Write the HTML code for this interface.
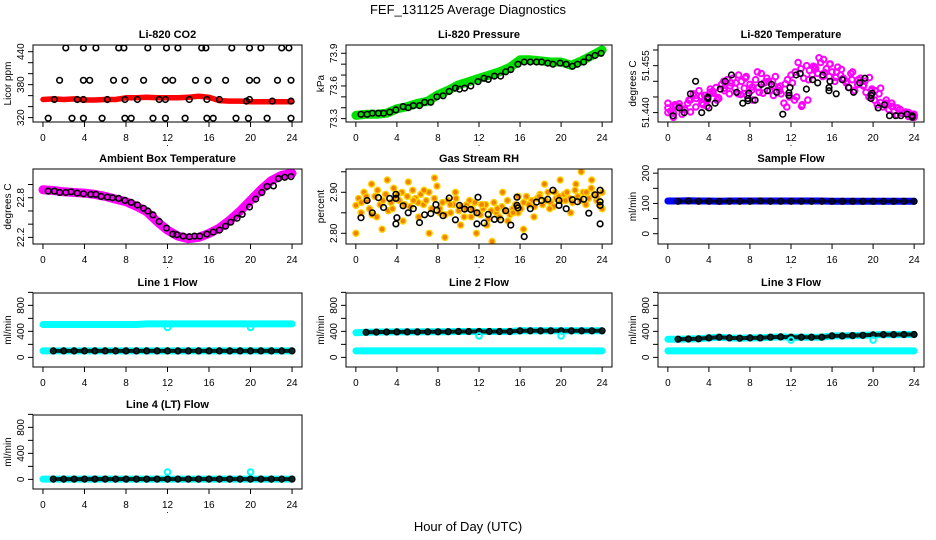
<!DOCTYPE html>
<html><head><meta charset="utf-8"><style>
html,body{margin:0;padding:0;background:#fff;}
svg{display:block;font-family:"Liberation Sans",sans-serif;}
</style></head><body>
<svg id="c" width="936" height="540" viewBox="0 0 936 540">
<text x="468" y="14" font-size="13" text-anchor="middle">FEF_131125  Average Diagnostics</text>
<text x="468" y="531" font-size="13" text-anchor="middle">Hour of Day (UTC)</text>
</svg>
<script>
// ---- data ----
const xTicks = [0,4,8,12,16,20,24];
const hours = [0,1,2,3,4,5,6,7,8,9,10,11,12,13,14,15,16,17,18,19,20,21,22,23,24];
const blackHours = [0.5,1.1,1.6,2.2,2.7,3.3,3.9,4.6,5.1,5.6,6.2,6.7,7.3,7.9,8.5,9.1,9.7,10.1,10.6,11.2,11.9,12.5,12.9,13.5,14.1,14.6,15.1,15.8,16.4,17.0,17.6,18.1,18.7,19.2,19.9,20.5,21.1,21.6,22.2,22.7,23.3,23.9];

const co2Band = [353,354,353,354,352,352,353,353,356,356,357,356,356,356,357,359,357,351,350,350,349,349,349,349,349];
const co2BlackHours = [2.2,3.9,5.1,7.3,7.8,10.1,11.9,13.0,15.3,15.7,18.2,19.9,21.0,23.0,23.7, 1.6,3.9,4.5,6.8,7.9,9.7,11.8,12.5,14.7,15.9,17.6,19.9,20.6,22.6,23.9, 0.5,2.8,3.9,5.7,7.9,8.5,10.6,11.8,13.7,15.8,16.4,18.6,19.8,21.6,23.9, 1.1,3.3,3.9,6.2,7.9,9.1,11.2,11.8,14.1,15.8,17.0,19.6,19.9,22.1,23.9];
const co2BlackVals = [447,447,447,447,447,447,447,447,447,447,447,447,447,447,447, 388,388,388,388,388,388,388,388,388,388,388,388,388,388,388, 319,319,319,319,319,319,319,319,319,319,319,319,319,319,319, 353,353,353,353,353,353,353,353,353,353,353,350,353,350,350];

const presBand = [73.33,73.34,73.34,73.35,73.39,73.41,73.44,73.46,73.52,73.56,73.61,73.64,73.67,73.7,73.73,73.77,73.84,73.84,73.83,73.82,73.82,73.79,73.83,73.88,73.93];
const presBlack = [73.34,73.34,73.35,73.35,73.35,73.36,73.38,73.41,73.40,73.42,73.42,73.45,73.45,73.50,73.51,73.55,73.58,73.57,73.58,73.60,73.64,73.67,73.66,73.69,73.69,73.73,73.75,73.80,73.82,73.82,73.82,73.82,73.81,73.80,73.81,73.80,73.78,73.80,73.82,73.86,73.88,73.90];

const tempMag = [51.4415,51.4405,51.4398,51.4420,51.4428,51.4395,51.4410,51.4430,51.4402,51.4460,51.4445,51.4470,51.4430,51.4455,51.4440,51.4475,51.4462,51.4480,51.4445,51.4490,51.4470,51.4505,51.4485,51.4510,51.4495,51.4520,51.4500,51.4478,51.4455,51.4490,51.4440,51.4505,51.4480,51.4525,51.4495,51.4510,51.4470,51.4500,51.4515,51.4480,51.4460,51.4430,51.4418,51.4450,51.4495,51.4530,51.4560,51.4540,51.4510,51.4550,51.4535,51.4520,51.4545,51.4525,51.4560,51.4570,51.4540,51.4515,51.4530,51.4500,51.4545,51.4520,51.4510,51.4495,51.4480,51.4505,51.4470,51.4490,51.4510,51.4485,51.4465,51.4450,51.4470,51.4440,51.4425,51.4432,51.4418,51.4428,51.4410,51.4420,51.4405,51.4392,51.4410,51.4398,51.4402,51.4388,51.4395,51.4390];
const tempMag2 = [51.4430,51.4385,51.4420,51.4412,51.4440,51.4418,51.4452,51.4420,51.4468,51.4448,51.4500,51.4460,51.4478,51.4458,51.4515,51.4472,51.4530,51.4462,51.4500,51.4485,51.4470,51.4492,51.4520,51.4450,51.4425,51.4440,51.4548,51.4575,51.4528,51.4555,51.4512,51.4538,51.4500,51.4530,51.4505,51.4488,51.4512,51.4470,51.4478,51.4440,51.4430,51.4415,51.4398,51.4400,51.4385];
const tempMag3 = [51.4400,51.4425,51.4410,51.4440,51.4455,51.4425,51.4465,51.4440,51.4478,51.4495,51.4460,51.4510,51.4482,51.4465,51.4498,51.4455,51.4485,51.4505,51.4440,51.4420,51.4505,51.4540,51.4515,51.4555,51.4530,51.4505,51.4525,51.4490,51.4500,51.4475,51.4460,51.4430,51.4420,51.4410,51.4400,51.4395];
const tempBlackHours = [0.5,1.1,1.6,2.2,2.7,3.3,3.9,3.9,4.0,4.6,5.1,5.6,6.2,6.7,7.3,7.8,7.8,7.9,8.5,9.1,9.7,10.1,10.6,11.2,11.8,11.8,11.9,12.5,12.9,13.5,14.1,14.6,15.1,15.7,15.7,15.8,16.4,17.0,17.6,18.1,18.7,19.2,19.8,19.8,19.9,20.5,21.1,21.6,22.2,22.7,23.3,23.8,23.8];
const tempBlack = [51.4390,51.4415,51.4400,51.4460,51.4500,51.4400,51.4450,51.4445,51.4415,51.4430,51.4475,51.4500,51.4520,51.4465,51.4430,51.4445,51.4438,51.4462,51.4440,51.4490,51.4470,51.4490,51.4465,51.4395,51.4455,51.4463,51.4480,51.4520,51.4525,51.4475,51.4505,51.4495,51.4520,51.4480,51.4470,51.4500,51.4460,51.4505,51.4480,51.4465,51.4495,51.4510,51.4445,51.4455,51.4462,51.4415,51.4425,51.4390,51.4390,51.4390,51.4395,51.4390,51.4385];

const ambBand = [22.92,22.91,22.89,22.88,22.87,22.85,22.82,22.78,22.74,22.67,22.59,22.44,22.31,22.22,22.18,22.2,22.26,22.34,22.46,22.6,22.76,22.92,23.06,23.14,23.17];
const ambBlack = [22.90,22.90,22.88,22.88,22.89,22.87,22.86,22.85,22.85,22.82,22.81,22.80,22.79,22.76,22.73,22.69,22.64,22.60,22.54,22.44,22.34,22.25,22.24,22.22,22.21,22.22,22.22,22.25,22.28,22.31,22.37,22.43,22.49,22.55,22.66,22.78,22.88,22.97,22.98,23.09,23.11,23.12];

const rhOrange = [2.868,2.885,2.875,2.900,2.880,2.860,2.845,2.890,2.905,2.870,2.880,2.895,2.855,2.875,2.910,2.885,2.880,2.900,2.870,2.890,2.865,2.905,2.885,2.875,2.895,2.870,2.880,2.900,2.860,2.885,2.915,2.860,2.875,2.845,2.880,2.850,2.870,2.885,2.855,2.865,2.840,2.870,2.880,2.860,2.875,2.850,2.845,2.860,2.870,2.835,2.855,2.875,2.850,2.840,2.865,2.855,2.880,2.845,2.860,2.870,2.850,2.860,2.875,2.890,2.870,2.880,2.865,2.885,2.895,2.870,2.880,2.900,2.875,2.865,2.885,2.890,2.880,2.895,2.900,2.885,2.875,2.905,2.890,2.880,2.900,2.870,2.885,2.910,2.895,2.880,2.870,2.900];
const rhOrange2 = [2.800,2.850,2.890,2.920,2.840,2.810,2.930,2.860,2.895,2.830,2.925,2.880,2.840,2.905,2.800,2.935,2.850,2.790,2.870,2.900,2.820,2.860,2.840,2.800,2.870,2.820,2.780,2.860,2.900,2.830,2.850,2.890,2.810,2.870,2.840,2.890,2.920,2.860,2.900,2.930,2.880,2.850,2.920,2.950,2.900,2.930,2.890,2.860];
const rhBlackHours = [0.5,1.1,1.6,2.2,2.7,3.3,3.9,3.9,4.0,3.9,4.6,5.1,5.6,6.2,6.7,7.3,7.8,7.9,8.5,9.1,9.7,10.1,10.6,11.2,11.8,11.9,11.8,12.5,12.9,13.5,14.1,14.6,15.1,15.7,15.7,15.8,16.4,17.0,17.6,18.1,18.7,19.2,19.8,19.8,20.5,21.1,21.6,22.2,22.7,23.3,23.8,23.8,23.8,23.8];
const rhBlack = [2.838,2.880,2.850,2.887,2.863,2.885,2.895,2.885,2.838,2.823,2.867,2.850,2.860,2.826,2.845,2.848,2.870,2.856,2.843,2.886,2.833,2.868,2.859,2.858,2.850,2.888,2.823,2.825,2.846,2.834,2.833,2.855,2.820,2.888,2.868,2.862,2.792,2.860,2.876,2.880,2.883,2.905,2.880,2.868,2.860,2.882,2.877,2.883,2.849,2.894,2.877,2.868,2.823,2.905];

const sampleBand = [108,108,109,108,108,107,108,108,108,108,108,108,108,108,108,108,107,107,107,107,107,107,107,107,107];
const sampleBlack = [107,107,108,107,107,107,107,107,107,108,107,107,107,107,107,107,107,107,107,107,107,107,107,107,107];

const l1Cyan = [505,505,505,505,505,505,505,505,505,505,515,515,515,515,515,515,515,515,515,515,515,515,515,515,515];
const l1Black = [100,100,100,100,100,100,100,100,100,100,100,100,100,100,100,100,100,100,100,100,100,100,100,100,100];
const l2Cyan = [100,100,100,100,100,100,100,100,100,100,100,100,100,100,100,100,100,100,100,100,100,100,100,100,100];
const l2Black = [380,385,388,390,392,392,392,393,393,395,398,398,398,398,398,398,408,408,408,408,408,408,408,408,408];
const l3Cyan = [100,100,100,100,100,100,100,100,100,100,100,100,100,100,100,100,100,100,100,100,100,100,100,100,100];
const l3Black = [280,280,282,285,300,310,300,295,300,300,310,315,310,310,310,310,330,330,335,340,345,350,350,352,352];
const l4Black = [5,5,5,5,5,5,5,5,5,5,5,5,5,5,5,5,5,5,5,5,5,5,5,5,5];
const outlierHours = [12,20];
const l1Out = [460,460];
const l2Out = [330,330];
const l3Out = [265,265];
const l4Out = [113,113];

// ---- rendering ----
const NS = 'http://www.w3.org/2000/svg';
const svg = document.getElementById('c');
function mk(tag, attrs, parent) {
  const e = document.createElementNS(NS, tag);
  for (const k in attrs) e.setAttribute(k, attrs[k]);
  (parent || svg).appendChild(e);
  return e;
}
const cols = [[33,302],[346,612],[658,924]];
const rows = [[45,122],[169,244],[293,367],[415,489]];

function panel(cfg) {
  const [L, R] = cols[cfg.col], [T, B] = rows[cfg.row];
  const g = mk('g', {});
  
  
  const span = 24 * 1.08;
  const sx = h => L + (h + 0.96) / span * (R - L);
  const sy = v => B - (v - cfg.ylim[0]) / (cfg.ylim[1] - cfg.ylim[0]) * (B - T);
  const cid = 'clip' + cfg.name;
  const cp = mk('clipPath', {id: cid}, g);
  mk('rect', {x: L, y: T, width: R - L, height: B - T}, cp);
  const data = mk('g', {'clip-path': 'url(#' + cid + ')'}, g);
  
  
  cfg.series.forEach(s => {
    const xs = s.x || s.y.map((_, i) => i * 24 / (s.y.length - 1));
    if (s.band) {
      const pl = mk('polyline', {points: xs.map((x, i) => sx(x).toFixed(1) + ',' + sy(s.y[i]).toFixed(1)).join(' '), fill: 'none', stroke: s.color, 'stroke-width': s.band, 'stroke-linejoin': 'round', 'stroke-linecap': 'round', opacity: s.op || 1}, data);
      
      
    }
    if (s.pts !== false) {
      xs.forEach((x, i) => {
        const c = mk('circle', {cx: sx(x).toFixed(1), cy: sy(s.y[i]).toFixed(1), r: s.r || 2.8, fill: s.fill || 'none', stroke: s.color, 'stroke-width': s.sw || 1.6}, data);
        
        
      });
    }
  });
  const box = mk('rect', {x: L, y: T, width: R - L, height: B - T, fill: 'none', stroke: '#000', 'stroke-width': 1}, g);
  
  
  const t = mk('text', {x: (L + R) / 2, y: T - 7, 'font-size': 11, 'font-weight': 'bold', 'text-anchor': 'middle'}, g);
  t.textContent = cfg.title;
  
  
  xTicks.forEach(v => {
    mk('line', {x1: sx(v), x2: sx(v), y1: B, y2: B + 5, stroke: '#000'}, g);
    const tl = mk('text', {x: sx(v), y: B + 19, 'font-size': 10, 'text-anchor': 'middle'}, g);
    tl.textContent = v;
    
    
  });
  mk('line', {x1: sx(0), x2: sx(24), y1: B, y2: B, stroke: '#000'}, g);
  cfg.yticks.forEach(v => {
    mk('line', {x1: L, x2: L - 5, y1: sy(v), y2: sy(v), stroke: '#000'}, g);
  });
  cfg.ylabels.forEach((v, i) => {
    const yy = sy(v), xx = L - 9;
    const tl = mk('text', {x: xx, y: yy, 'font-size': 10, 'text-anchor': 'middle', transform: 'rotate(-90 ' + xx + ' ' + yy + ')'}, g);
    tl.textContent = cfg.ylabelText[i];
    
    
  });
  const yt = mk('text', {x: L - 22, y: (T + B) / 2, 'font-size': 10, 'text-anchor': 'middle', transform: 'rotate(-90 ' + (L - 22) + ' ' + (T + B) / 2 + ')'}, g);
  yt.textContent = cfg.ytitle;
  
  
  const dot = mk('text', {x: (L + R) / 2, y: B + 24, 'font-size': 9, 'text-anchor': 'middle'}, g);
  dot.textContent = '.';
}

const flowTicks = [0,200,400,600,800,1000];
const flowLabels = [0,400,800];
const flowYlim = [-148, 990];

panel({name:'co2-panel', col:0, row:0, title:'Li-820 CO2', ytitle:'Licor ppm', ylim:[312,452.2],
  yticks:[320,340,360,380,400,420,440], ylabels:[320,380,440], ylabelText:['320','380','440'],
  series:[{name:'co2-avg', x:hours, y:co2Band, color:'#ff0000', band:5.5, pts:false},
          {name:'co2-sample', x:co2BlackHours, y:co2BlackVals, color:'#000'}]});
panel({name:'pressure-panel', col:1, row:0, title:'Li-820 Pressure', ytitle:'kPa', ylim:[73.269,73.976],
  yticks:[73.3,73.4,73.5,73.6,73.7,73.8,73.9], ylabels:[73.3,73.6,73.9], ylabelText:['73.3','73.6','73.9'],
  series:[{name:'pressure-avg', x:hours, y:presBand, color:'#00e000', band:9, pts:false},
          {name:'pressure-sample', x:blackHours, y:presBlack, color:'#000'}]});
panel({name:'li820-temp-panel', col:2, row:0, title:'Li-820 Temperature', ytitle:'degrees C', ylim:[51.437,51.4616],
  yticks:[51.440,51.445,51.450,51.455,51.460], ylabels:[51.440,51.455], ylabelText:['51.440','51.455'],
  series:[{name:'temp-avg', y:tempMag, color:'#ff00ff', r:2.8, sw:2},
          {name:'temp-avg2', y:tempMag2, color:'#ff00ff', r:2.8, sw:2},
          {name:'temp-avg3', y:tempMag3, color:'#ff00ff', r:2.8, sw:2},
          {name:'temp-sample', x:tempBlackHours, y:tempBlack, color:'#000'}]});
panel({name:'ambient-temp-panel', col:0, row:1, title:'Ambient Box Temperature', ytitle:'degrees C', ylim:[22.10,23.235],
  yticks:[22.2,22.4,22.6,22.8,23.0], ylabels:[22.2,22.8], ylabelText:['22.2','22.8'],
  series:[{name:'ambient-avg', x:hours, y:ambBand, color:'#ff00ff', band:9, pts:false},
          {name:'ambient-sample', x:blackHours, y:ambBlack, color:'#000'}]});
panel({name:'rh-panel', col:1, row:1, title:'Gas Stream RH', ytitle:'percent', ylim:[2.7739,2.9568],
  yticks:[2.80,2.85,2.90,2.95], ylabels:[2.80,2.90], ylabelText:['2.80','2.90'],
  series:[{name:'rh-avg', y:rhOrange, color:'#ffd000', fill:'#f08000', r:3, sw:1.4},
          {name:'rh-avg2', y:rhOrange2, color:'#ffd000', fill:'#f08000', r:3, sw:1.4},
          {name:'rh-sample', x:rhBlackHours, y:rhBlack, color:'#000'}]});
panel({name:'sample-flow-panel', col:2, row:1, title:'Sample Flow', ytitle:'ml/min', ylim:[-34,213.8],
  yticks:[0,50,100,150,200], ylabels:[0,100,200], ylabelText:['0','100','200'],
  series:[{name:'sample-avg', x:hours, y:sampleBand, color:'#0000ff', band:7, pts:false},
          {name:'sample-sample', x:hours.slice(1), y:sampleBlack.slice(1), color:'#000', band:3, op:0.7}]});
panel({name:'line1-flow-panel', col:0, row:2, title:'Line 1 Flow', ytitle:'ml/min', ylim:flowYlim,
  yticks:flowTicks, ylabels:flowLabels, ylabelText:['0','400','800'],
  series:[{name:'line1-cyan', x:hours, y:l1Cyan, color:'#00ffff', band:7, pts:false},
          {name:'line1-cyan-low', x:hours, y:l1Black, color:'#00ffff', band:7, pts:false},
          {name:'line1-black', x:hours.slice(1), y:l1Black.slice(1), color:'#000', band:4, op:0.85},
          {name:'line1-outlier', x:outlierHours, y:l1Out, color:'#00ffff', sw:2}]});
panel({name:'line2-flow-panel', col:1, row:2, title:'Line 2 Flow', ytitle:'ml/min', ylim:flowYlim,
  yticks:flowTicks, ylabels:flowLabels, ylabelText:['0','400','800'],
  series:[{name:'line2-cyan', x:hours, y:l2Cyan, color:'#00ffff', band:7, pts:false},
          {name:'line2-cyan-hi', x:hours, y:l2Black, color:'#00ffff', band:7, pts:false},
          {name:'line2-black', x:hours.slice(1), y:l2Black.slice(1), color:'#000', band:4, op:0.85},
          {name:'line2-outlier', x:outlierHours, y:l2Out, color:'#00ffff', sw:2}]});
panel({name:'line3-flow-panel', col:2, row:2, title:'Line 3 Flow', ytitle:'ml/min', ylim:flowYlim,
  yticks:flowTicks, ylabels:flowLabels, ylabelText:['0','400','800'],
  series:[{name:'line3-cyan', x:hours, y:l3Cyan, color:'#00ffff', band:7, pts:false},
          {name:'line3-cyan-hi', x:hours, y:l3Black, color:'#00ffff', band:7, pts:false},
          {name:'line3-black', x:hours.slice(1), y:l3Black.slice(1), color:'#000', band:4, op:0.85},
          {name:'line3-outlier', x:outlierHours, y:l3Out, color:'#00ffff', sw:2}]});
panel({name:'line4-flow-panel', col:0, row:3, title:'Line 4 (LT) Flow', ytitle:'ml/min', ylim:flowYlim,
  yticks:flowTicks, ylabels:flowLabels, ylabelText:['0','400','800'],
  series:[{name:'line4-cyan', x:hours, y:l4Black, color:'#00ffff', band:7, pts:false},
          {name:'line4-black', x:hours.slice(1), y:l4Black.slice(1), color:'#000', band:4, op:0.85},
          {name:'line4-outlier', x:outlierHours, y:l4Out, color:'#00ffff', sw:2}]});
</script>
</body></html>
